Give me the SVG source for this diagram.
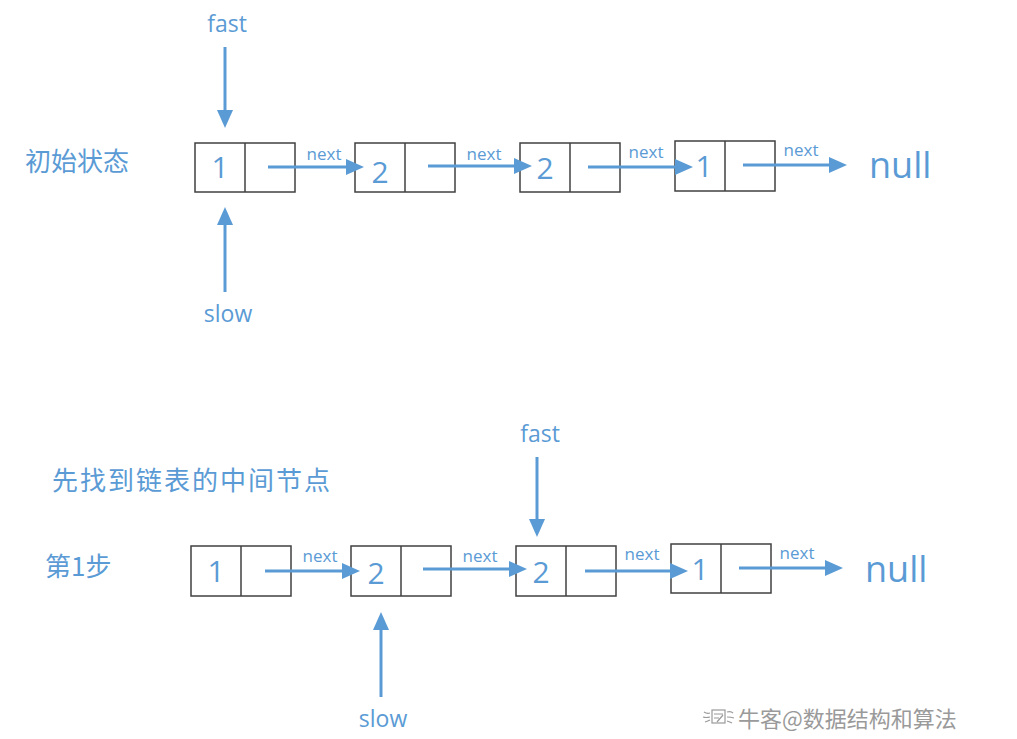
<svg xmlns="http://www.w3.org/2000/svg" width="1017" height="739" viewBox="0 0 1017 739">
<style>
.box{fill:#fff;stroke:#404040;stroke-width:1.5}
.div{stroke:#404040;stroke-width:1.5}
.num{font-family:"Open Sans",sans-serif;font-size:30px;fill:#5B9BD5;text-anchor:middle}
.lbl{font-family:"Open Sans",sans-serif;font-size:17px;fill:#5B9BD5;text-anchor:middle}
.ptr{font-family:"Open Sans",sans-serif;font-size:23px;fill:#5B9BD5;text-anchor:middle}
.null{font-family:"Open Sans",sans-serif;font-size:36px;fill:#5B9BD5}
.cjk{font-family:"Noto Sans CJK SC",sans-serif;font-size:26px;fill:#5B9BD5}
.arr{stroke:#5B9BD5;stroke-width:3;fill:none;marker-end:url(#ah)}
.wm{font-family:"Noto Sans CJK SC",sans-serif;font-size:22px;fill:#9a9a9a}
</style>
<defs>
<marker id="ah" markerUnits="userSpaceOnUse" markerWidth="18" markerHeight="16" refX="6" refY="8" orient="auto">
<path d="M0,0 L18,8 L0,16 z" fill="#5B9BD5"/>
</marker>
</defs>

<text class="cjk" x="25" y="171">初始状态</text>
<text class="cjk" x="52" y="490" letter-spacing="2">先找到链表的中间节点</text>
<text class="cjk" x="45" y="576">第1步</text>

<!-- top row -->
<g id="t1"><rect class="box" x="195" y="143" width="100" height="49"/><line class="div" x1="245" y1="143" x2="245" y2="192"/><text class="num" x="220" y="178">1</text></g>
<g id="t2"><rect class="box" x="355" y="143" width="100" height="49"/><line class="div" x1="405" y1="143" x2="405" y2="192"/><text class="num" x="380" y="183">2</text></g>
<g id="t3"><rect class="box" x="520" y="143" width="100" height="49"/><line class="div" x1="570" y1="143" x2="570" y2="192"/><text class="num" x="545" y="179">2</text></g>
<g id="t4"><rect class="box" x="675" y="141" width="100" height="50"/><line class="div" x1="725" y1="141" x2="725" y2="191"/><text class="num" x="704" y="177">1</text></g>
<text class="null" x="869" y="178">null</text>
<text class="ptr" x="227" y="32">fast</text>
<text class="ptr" x="228" y="322">slow</text>

<!-- bottom row -->
<g id="b1"><rect class="box" x="191" y="546" width="100" height="50"/><line class="div" x1="241" y1="546" x2="241" y2="596"/><text class="num" x="216" y="582">1</text></g>
<g id="b2"><rect class="box" x="351" y="546" width="100" height="50"/><line class="div" x1="401" y1="546" x2="401" y2="596"/><text class="num" x="376" y="584">2</text></g>
<g id="b3"><rect class="box" x="516" y="546" width="100" height="50"/><line class="div" x1="566" y1="546" x2="566" y2="596"/><text class="num" x="541" y="583">2</text></g>
<g id="b4"><rect class="box" x="671" y="544" width="100" height="49"/><line class="div" x1="721" y1="544" x2="721" y2="593"/><text class="num" x="700" y="580">1</text></g>
<text class="null" x="865" y="582">null</text>
<text class="ptr" x="540" y="442">fast</text>
<text class="ptr" x="383" y="727">slow</text>

<g id="connectors">
<line class="arr" x1="268" y1="167" x2="352" y2="167"/>
<line class="arr" x1="428" y1="166" x2="520" y2="166"/>
<line class="arr" x1="588" y1="167" x2="681" y2="167"/>
<line class="arr" x1="743" y1="165" x2="835" y2="165"/>
<line class="arr" x1="225" y1="47" x2="225" y2="116"/>
<line class="arr" x1="225" y1="292" x2="225" y2="219"/>
<line class="arr" x1="265" y1="571" x2="348" y2="571"/>
<line class="arr" x1="423" y1="569" x2="515" y2="569"/>
<line class="arr" x1="585" y1="571" x2="676" y2="571"/>
<line class="arr" x1="739" y1="568" x2="831" y2="568"/>
<line class="arr" x1="537" y1="457" x2="537" y2="525"/>
<line class="arr" x1="381" y1="697" x2="381" y2="624"/>
<text class="lbl" x="324" y="160">next</text>
<text class="lbl" x="484" y="160">next</text>
<text class="lbl" x="646" y="158">next</text>
<text class="lbl" x="801" y="156">next</text>
<text class="lbl" x="320" y="562">next</text>
<text class="lbl" x="480" y="562">next</text>
<text class="lbl" x="642" y="560">next</text>
<text class="lbl" x="797" y="559">next</text>
</g>

<g id="watermark">
<g fill="none" stroke="#9a9a9a" stroke-width="1.2">
<rect x="712" y="710" width="13" height="13"/>
<path d="M714,714 h9 M714,718 h5 M717,722 l6,-7"/>
<path d="M704,712 q3,2 6,1 M703,717 q3,1 7,0 M705,722 q3,-1 5,-2"/>
<path d="M727,712 q4,-1 6,1 M727,717 q4,0 7,1 M727,721 q3,1 5,2"/>
</g>
<text class="wm" x="738" y="727">牛客@数据结构和算法</text>
</g>
</svg>
